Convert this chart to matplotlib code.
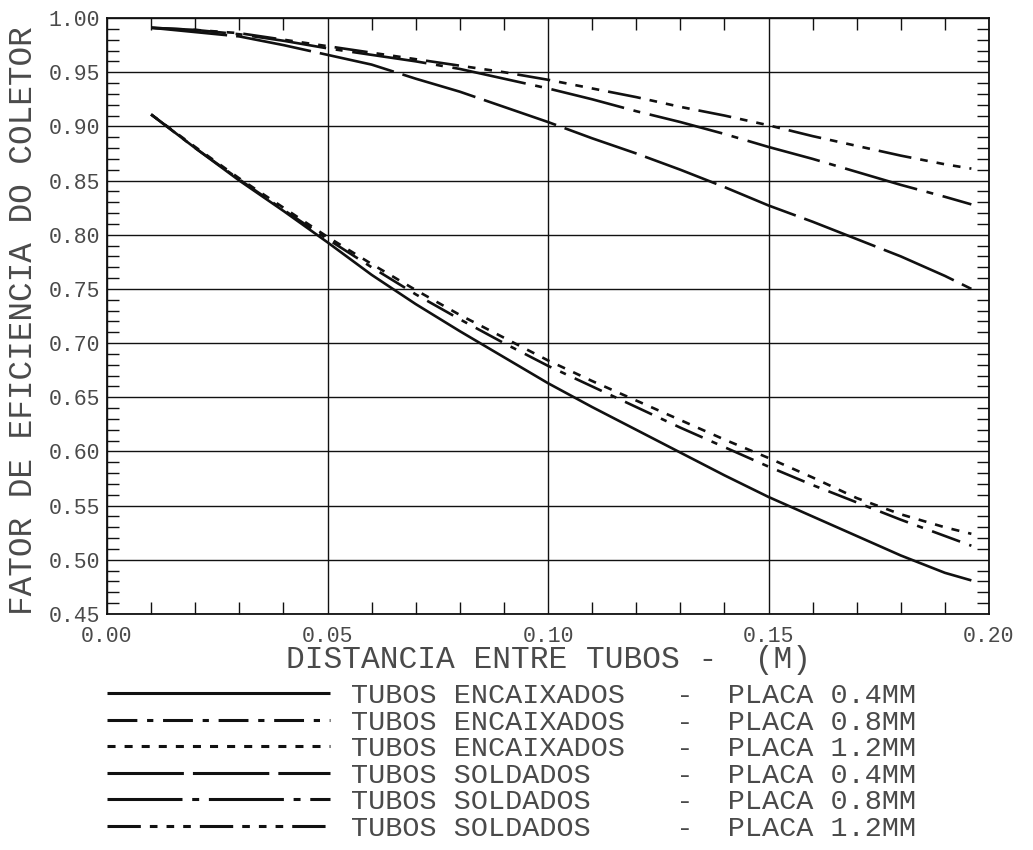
import matplotlib
matplotlib.use("Agg")
import matplotlib.pyplot as plt
from matplotlib.ticker import MultipleLocator, FormatStrFormatter
from matplotlib.font_manager import FontProperties

plt.rcParams['lines.scale_dashes'] = False

# ---- data ----
x = [0.01, 0.02, 0.03, 0.04, 0.05, 0.06, 0.07, 0.08, 0.09, 0.10,
     0.11, 0.12, 0.13, 0.14, 0.15, 0.16, 0.17, 0.18, 0.19, 0.196]

enc_04 = [0.911, 0.880, 0.850, 0.822, 0.793, 0.763, 0.736, 0.711, 0.687, 0.663,
          0.641, 0.620, 0.599, 0.578, 0.558, 0.540, 0.522, 0.504, 0.488, 0.481]
enc_08 = [0.911, 0.880, 0.851, 0.823, 0.796, 0.770, 0.745, 0.722, 0.700, 0.679,
          0.660, 0.641, 0.622, 0.604, 0.586, 0.569, 0.553, 0.537, 0.522, 0.513]
enc_12 = [0.911, 0.881, 0.852, 0.825, 0.798, 0.773, 0.749, 0.726, 0.705, 0.684,
          0.665, 0.647, 0.629, 0.611, 0.594, 0.576, 0.557, 0.542, 0.530, 0.524]
sol_04 = [0.991, 0.987, 0.983, 0.975, 0.966, 0.957, 0.944, 0.932, 0.918, 0.904,
          0.889, 0.875, 0.860, 0.844, 0.827, 0.812, 0.796, 0.780, 0.762, 0.750]
sol_08 = [0.991, 0.989, 0.985, 0.979, 0.972, 0.966, 0.960, 0.953, 0.944, 0.935,
          0.925, 0.914, 0.904, 0.893, 0.881, 0.870, 0.858, 0.846, 0.835, 0.828]
sol_12 = [0.991, 0.989, 0.986, 0.980, 0.974, 0.968, 0.962, 0.956, 0.950, 0.943,
          0.935, 0.927, 0.918, 0.910, 0.901, 0.891, 0.882, 0.873, 0.865, 0.861]

labels = [
    "TUBOS ENCAIXADOS   -  PLACA 0.4MM",
    "TUBOS ENCAIXADOS   -  PLACA 0.8MM",
    "TUBOS ENCAIXADOS   -  PLACA 1.2MM",
    "TUBOS SOLDADOS     -  PLACA 0.4MM",
    "TUBOS SOLDADOS     -  PLACA 0.8MM",
    "TUBOS SOLDADOS     -  PLACA 1.2MM",
]
xticks = [0.00, 0.05, 0.10, 0.15, 0.20]
yticks = [0.45, 0.50, 0.55, 0.60, 0.65, 0.70, 0.75, 0.80, 0.85, 0.90, 0.95, 1.00]
xlabel = "DISTANCIA ENTRE TUBOS -  (M)"
ylabel = "FATOR DE EFICIENCIA DO COLETOR"

# ---- styles ----
series = [enc_04, enc_08, enc_12, sol_04, sol_08, sol_12]
styles = [
    (0, ()),
    (0, (21.5, 7.0, 4.5, 7.0)),
    (0, (5.8, 6.5)),
    (0, (55, 6.5)),
    (0, (54, 7.0, 5.0, 7.0)),
    (0, (24, 6.5, 5.5, 6.5, 5.5, 6.5, 5.5, 6.5)),
]

W, H = 1033, 850
fig = plt.figure(figsize=(W / 100, H / 100), dpi=100)
L, R, T, B = 107, 989, 18, 614
ax = fig.add_axes([L / W, 1 - B / H, (R - L) / W, (B - T) / H])

ink = "#111111"
txt = "#4a4a4a"
mono = "Liberation Mono"

handles = []
for ys, ls, lab in zip(series, styles, labels):
    h, = ax.plot(x, ys, color=ink, lw=1.9, linestyle=ls, label=lab,
                 solid_capstyle='butt', dash_capstyle='butt')
    handles.append(h)

ax.set_xlim(0.0, 0.20)
ax.set_ylim(0.45, 1.00)
ax.set_xticks(xticks)
ax.set_yticks(yticks)
ax.xaxis.set_major_formatter(FormatStrFormatter('%.2f'))
ax.yaxis.set_major_formatter(FormatStrFormatter('%.2f'))
ax.xaxis.set_minor_locator(MultipleLocator(0.01))
ax.yaxis.set_minor_locator(MultipleLocator(0.01))
ax.tick_params(which='major', length=0, labelsize=15.5, labelcolor=txt)
ax.tick_params(axis='y', which='major', pad=5)
ax.tick_params(axis='x', which='major', pad=8.5)
ax.tick_params(which='minor', direction='in', length=8.6, width=1.0, color=ink,
               top=True, right=True, bottom=True, left=True)
for lab in ax.get_xticklabels() + ax.get_yticklabels():
    lab.set_family(mono)
ax.grid(which='major', color=ink, lw=1.0)
for s in ax.spines.values():
    s.set_color(ink)
    s.set_linewidth(1.3)

fig.text(548 / W, 1 - 660 / H, xlabel, family=mono, size=22.5, color=txt,
         ha='center', va='center')
fig.text(24 / W, 1 - 321 / H, ylabel, family=mono, size=23.5, color=txt,
         ha='center', va='center', rotation=90)

fs = 20.5
fpx = fs * 100 / 72
leg = fig.legend(handles, labels, loc='upper left',
                 bbox_to_anchor=(107 / W, 1 - 683 / H), bbox_transform=fig.transFigure,
                 frameon=False, prop=FontProperties(family=mono, size=fs),
                 handlelength=223 / fpx, handletextpad=21 / fpx,
                 labelspacing=0.02, borderpad=0, borderaxespad=0)
for t in leg.get_texts():
    t.set_color(txt)
for lh in leg.legend_handles:
    lh.set_linewidth(2.2)

fig.savefig("out.png", dpi=100)
